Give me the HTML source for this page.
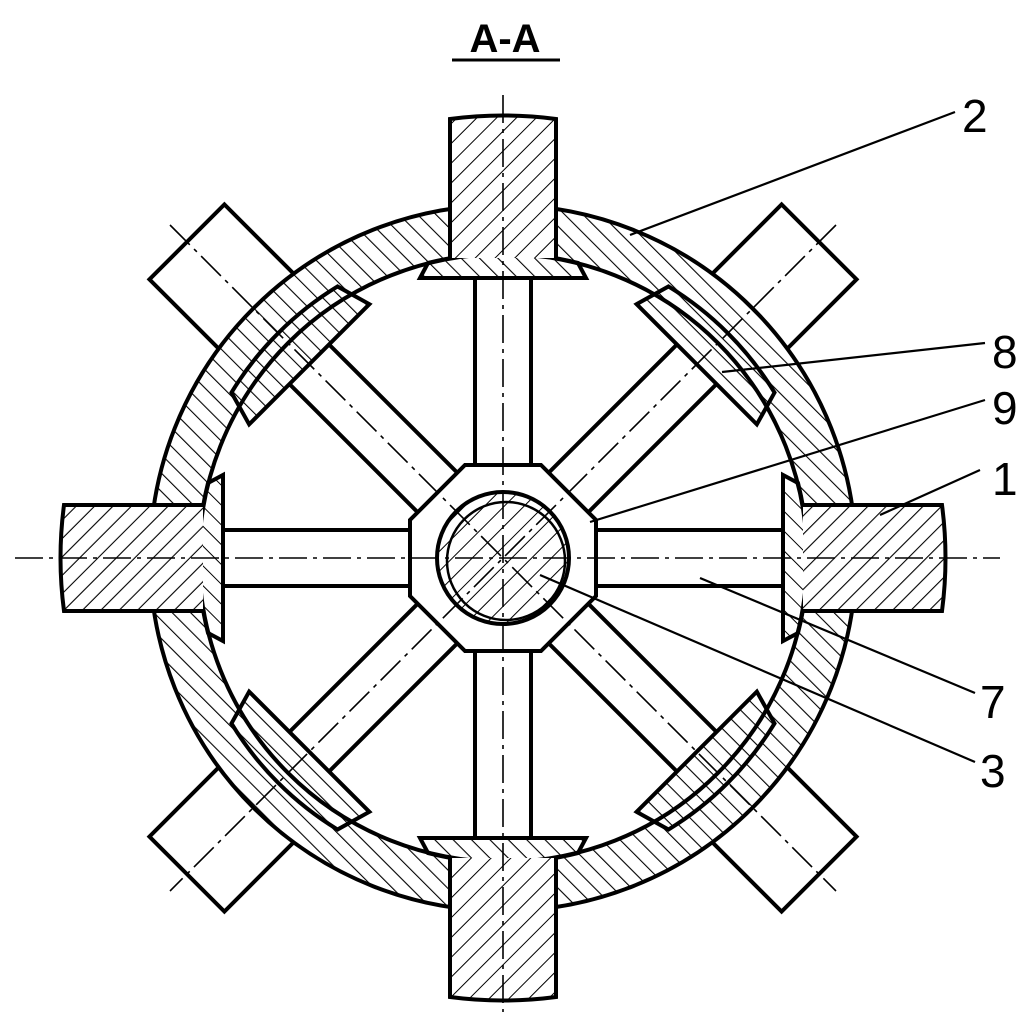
<!DOCTYPE html>
<html><head><meta charset="utf-8"><style>
html,body{margin:0;padding:0;background:#fff}
svg{display:block}
text{font-family:"Liberation Sans",sans-serif}
</style></head><body>
<svg width="1036" height="1021" viewBox="0 0 1036 1021" xmlns="http://www.w3.org/2000/svg">
<defs>
<pattern id="pm45" patternUnits="userSpaceOnUse" width="13" height="13" patternTransform="rotate(-45)">
<rect width="13" height="13" fill="#fff"/><line x1="0" y1="0" x2="0" y2="13" stroke="#000" stroke-width="2.2"/></pattern>
<pattern id="p45" patternUnits="userSpaceOnUse" width="14" height="14" patternTransform="rotate(45)">
<rect width="14" height="14" fill="#fff"/><line x1="0" y1="0" x2="0" y2="14" stroke="#000" stroke-width="2"/></pattern>
<pattern id="p0" patternUnits="userSpaceOnUse" width="13" height="13">
<rect width="13" height="13" fill="#fff"/><line x1="0" y1="0" x2="0" y2="13" stroke="#000" stroke-width="2.2"/></pattern>
<pattern id="p90" patternUnits="userSpaceOnUse" width="13" height="13">
<rect width="13" height="13" fill="#fff"/><line x1="0" y1="0" x2="13" y2="0" stroke="#000" stroke-width="2.2"/></pattern>
<g id="dblock"><rect x="450" y="111" width="106" height="160" fill="#fff" stroke="#000" stroke-width="4"/></g>
<g id="spoke"><rect x="475" y="262" width="56" height="210" fill="#fff" stroke="#000" stroke-width="4"/></g>
<path id="cpad" d="M420,278 L586,278 L578,263 A304 304 0 0 0 428,263 Z" stroke="#000" stroke-width="4"/>
<path id="dpad" d="M418,284 L588,284 L578,249 A318 318 0 0 0 428,249 Z" stroke="#000" stroke-width="4"/>
<path id="cblock" d="M450,258 L450,119 Q503,112 556,119 L556,258" stroke="#000" stroke-width="4"/>
</defs>
<use href="#dblock" transform="rotate(45 503 558)"/>
<use href="#dblock" transform="rotate(135 503 558)"/>
<use href="#dblock" transform="rotate(225 503 558)"/>
<use href="#dblock" transform="rotate(315 503 558)"/>
<path d="M150,558 A353 353 0 1 0 856,558 A353 353 0 1 0 150,558 Z M199,558 A304 304 0 1 1 807,558 A304 304 0 1 1 199,558 Z" fill="url(#pm45)" fill-rule="evenodd"/>
<use href="#spoke"/>
<use href="#spoke" transform="rotate(45 503 558)"/>
<use href="#spoke" transform="rotate(90 503 558)"/>
<use href="#spoke" transform="rotate(135 503 558)"/>
<use href="#spoke" transform="rotate(180 503 558)"/>
<use href="#spoke" transform="rotate(225 503 558)"/>
<use href="#spoke" transform="rotate(270 503 558)"/>
<use href="#spoke" transform="rotate(315 503 558)"/>
<use href="#cpad" fill="url(#pm45)"/>
<use href="#cpad" fill="url(#p45)" transform="rotate(90 503 558)"/>
<use href="#cpad" fill="url(#pm45)" transform="rotate(180 503 558)"/>
<use href="#cpad" fill="url(#p45)" transform="rotate(270 503 558)"/>
<use href="#dpad" fill="url(#p90)" transform="rotate(45 503 558)"/>
<use href="#dpad" fill="url(#p0)" transform="rotate(135 503 558)"/>
<use href="#dpad" fill="url(#p90)" transform="rotate(225 503 558)"/>
<use href="#dpad" fill="url(#p0)" transform="rotate(315 503 558)"/>
<circle cx="503" cy="558" r="304" fill="none" stroke="#000" stroke-width="4"/>
<circle cx="503" cy="558" r="353" fill="none" stroke="#000" stroke-width="4"/>
<use href="#cblock" fill="url(#p45)"/>
<use href="#cblock" fill="url(#pm45)" transform="rotate(90 503 558)"/>
<use href="#cblock" fill="url(#p45)" transform="rotate(180 503 558)"/>
<use href="#cblock" fill="url(#pm45)" transform="rotate(270 503 558)"/>
<polygon points="465,465 541,465 596,520 596,596 541,651 465,651 410,596 410,520" fill="#fff" stroke="#000" stroke-width="4"/>
<circle cx="503" cy="558" r="66" fill="url(#p45)" stroke="#000" stroke-width="4"/>
<circle cx="506" cy="561" r="59" fill="none" stroke="#000" stroke-width="2.5"/>
<g stroke="#000" stroke-width="1.6" stroke-dasharray="28,6,4,6" fill="none">
<line x1="15" y1="558" x2="1000" y2="558"/>
<line x1="503" y1="95" x2="503" y2="1012"/>
<line x1="170" y1="225" x2="836" y2="891"/>
<line x1="836" y1="225" x2="170" y2="891"/>
</g>
<g stroke="#000" stroke-width="2.2">
<line x1="955" y1="112" x2="630" y2="235"/>
<line x1="985" y1="343" x2="722" y2="372"/>
<line x1="985" y1="400" x2="590" y2="522"/>
<line x1="980" y1="470" x2="880" y2="515"/>
<line x1="975" y1="693" x2="700" y2="578"/>
<line x1="975" y1="762" x2="540" y2="575"/>
</g>
<g font-size="46" fill="#000">
<text x="962" y="132">2</text>
<text x="992" y="368">8</text>
<text x="992" y="424">9</text>
<text x="992" y="495">1</text>
<text x="980" y="718">7</text>
<text x="980" y="787">3</text>
</g>
<text x="505" y="52" font-size="40" font-weight="bold" text-anchor="middle">A-A</text>
<line x1="452" y1="60" x2="560" y2="60" stroke="#000" stroke-width="3"/>
</svg>
</body></html>
